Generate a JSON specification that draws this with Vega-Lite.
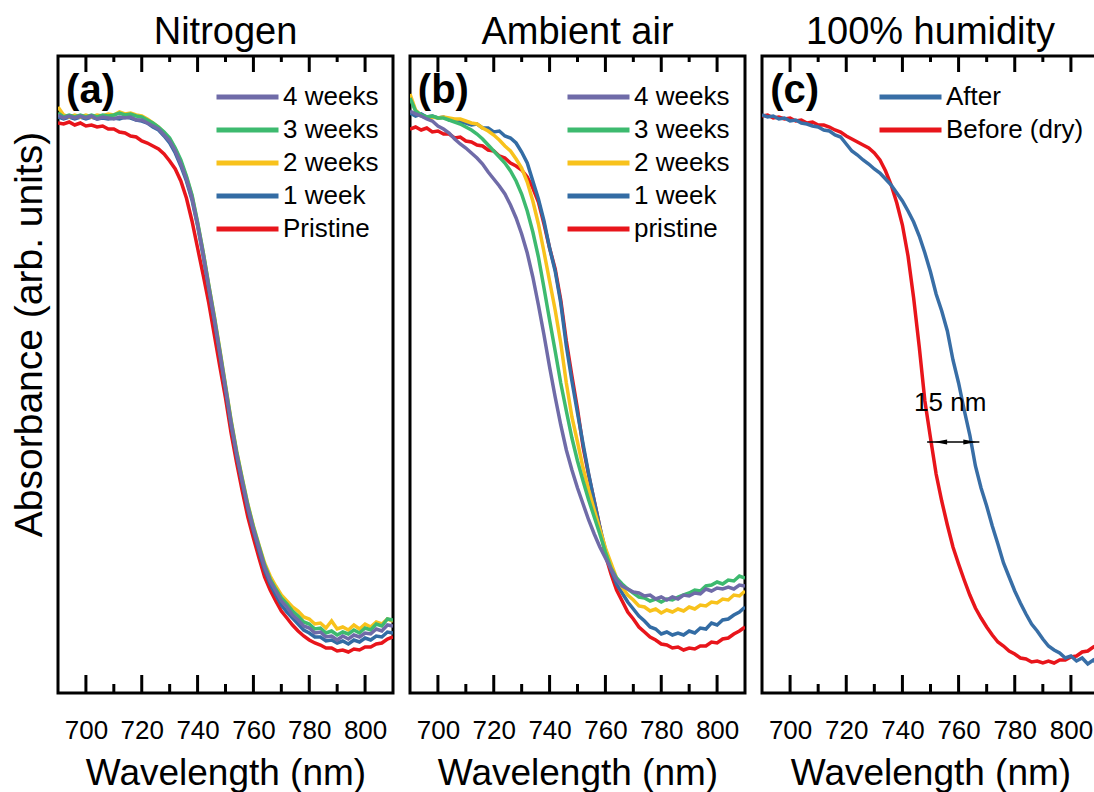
{
"$schema": "https://vega.github.io/schema/vega-lite/v6.json",
"padding": {"left": 8, "top": 12, "right": 0, "bottom": 0},
"background": "white",
"spacing": 13,
"config": {
  "font": "Liberation Sans",
  "view": {"stroke": "black", "strokeWidth": 3},
  "axis": {"grid": false, "domain": false, "ticks": false, "tickSize": 0, "labelFont": "Liberation Sans", "titleFont": "Liberation Sans", "labelColor": "black", "titleColor": "black"},
  "legend": {"symbolType": "stroke", "symbolSize": 3844, "symbolStrokeWidth": 5, "labelFontSize": 26, "labelFont": "Liberation Sans", "labelColor": "black", "labelOffset": 2, "clipHeight": 26, "rowPadding": 7, "padding": 0, "orient": "none", "title": null},
  "title": {"font": "Liberation Sans", "fontSize": 38, "fontWeight": "normal", "color": "black", "offset": 3, "baseline": "bottom", "anchor": "middle"},
  "text": {"font": "Liberation Sans", "color": "black"}
},
"datasets": {
"a": [
{"s":"Pristine","x":690,"y":5.70},{"s":"Pristine","x":692,"y":5.69},{"s":"Pristine","x":694,"y":5.71},{"s":"Pristine","x":696,"y":5.68},{"s":"Pristine","x":698,"y":5.70},{"s":"Pristine","x":700,"y":5.67},{"s":"Pristine","x":702,"y":5.68},{"s":"Pristine","x":704,"y":5.66},{"s":"Pristine","x":706,"y":5.67},{"s":"Pristine","x":708,"y":5.64},{"s":"Pristine","x":710,"y":5.64},{"s":"Pristine","x":712,"y":5.61},{"s":"Pristine","x":714,"y":5.60},{"s":"Pristine","x":716,"y":5.57},{"s":"Pristine","x":718,"y":5.56},{"s":"Pristine","x":720,"y":5.52},{"s":"Pristine","x":722,"y":5.50},{"s":"Pristine","x":724,"y":5.47},{"s":"Pristine","x":726,"y":5.44},{"s":"Pristine","x":728,"y":5.39},{"s":"Pristine","x":730,"y":5.32},{"s":"Pristine","x":732,"y":5.24},{"s":"Pristine","x":734,"y":5.12},{"s":"Pristine","x":736,"y":4.95},{"s":"Pristine","x":738,"y":4.72},{"s":"Pristine","x":740,"y":4.45},{"s":"Pristine","x":742,"y":4.18},{"s":"Pristine","x":744,"y":3.90},{"s":"Pristine","x":746,"y":3.58},{"s":"Pristine","x":748,"y":3.26},{"s":"Pristine","x":750,"y":2.95},{"s":"Pristine","x":752,"y":2.60},{"s":"Pristine","x":754,"y":2.30},{"s":"Pristine","x":756,"y":2.02},{"s":"Pristine","x":758,"y":1.76},{"s":"Pristine","x":760,"y":1.55},{"s":"Pristine","x":762,"y":1.35},{"s":"Pristine","x":764,"y":1.16},{"s":"Pristine","x":766,"y":1.03},{"s":"Pristine","x":768,"y":0.92},{"s":"Pristine","x":770,"y":0.82},{"s":"Pristine","x":772,"y":0.75},{"s":"Pristine","x":774,"y":0.68},{"s":"Pristine","x":776,"y":0.62},{"s":"Pristine","x":778,"y":0.57},{"s":"Pristine","x":780,"y":0.53},{"s":"Pristine","x":782,"y":0.50},{"s":"Pristine","x":784,"y":0.48},{"s":"Pristine","x":786,"y":0.45},{"s":"Pristine","x":788,"y":0.45},{"s":"Pristine","x":790,"y":0.42},{"s":"Pristine","x":792,"y":0.43},{"s":"Pristine","x":794,"y":0.41},{"s":"Pristine","x":796,"y":0.44},{"s":"Pristine","x":798,"y":0.43},{"s":"Pristine","x":800,"y":0.46},{"s":"Pristine","x":802,"y":0.46},{"s":"Pristine","x":804,"y":0.49},{"s":"Pristine","x":806,"y":0.50},{"s":"Pristine","x":808,"y":0.54},{"s":"Pristine","x":810,"y":0.56},
{"s":"1 week","x":690,"y":5.76},{"s":"1 week","x":692,"y":5.74},{"s":"1 week","x":694,"y":5.76},{"s":"1 week","x":696,"y":5.74},{"s":"1 week","x":698,"y":5.76},{"s":"1 week","x":700,"y":5.74},{"s":"1 week","x":702,"y":5.76},{"s":"1 week","x":704,"y":5.74},{"s":"1 week","x":706,"y":5.75},{"s":"1 week","x":708,"y":5.74},{"s":"1 week","x":710,"y":5.75},{"s":"1 week","x":712,"y":5.74},{"s":"1 week","x":714,"y":5.76},{"s":"1 week","x":716,"y":5.75},{"s":"1 week","x":718,"y":5.73},{"s":"1 week","x":720,"y":5.72},{"s":"1 week","x":722,"y":5.70},{"s":"1 week","x":724,"y":5.66},{"s":"1 week","x":726,"y":5.63},{"s":"1 week","x":728,"y":5.57},{"s":"1 week","x":730,"y":5.50},{"s":"1 week","x":732,"y":5.40},{"s":"1 week","x":734,"y":5.27},{"s":"1 week","x":736,"y":5.12},{"s":"1 week","x":738,"y":4.93},{"s":"1 week","x":740,"y":4.67},{"s":"1 week","x":742,"y":4.37},{"s":"1 week","x":744,"y":4.04},{"s":"1 week","x":746,"y":3.72},{"s":"1 week","x":748,"y":3.38},{"s":"1 week","x":750,"y":3.03},{"s":"1 week","x":752,"y":2.68},{"s":"1 week","x":754,"y":2.37},{"s":"1 week","x":756,"y":2.10},{"s":"1 week","x":758,"y":1.84},{"s":"1 week","x":760,"y":1.62},{"s":"1 week","x":762,"y":1.42},{"s":"1 week","x":764,"y":1.23},{"s":"1 week","x":766,"y":1.09},{"s":"1 week","x":768,"y":0.98},{"s":"1 week","x":770,"y":0.88},{"s":"1 week","x":772,"y":0.81},{"s":"1 week","x":774,"y":0.75},{"s":"1 week","x":776,"y":0.69},{"s":"1 week","x":778,"y":0.63},{"s":"1 week","x":780,"y":0.60},{"s":"1 week","x":782,"y":0.56},{"s":"1 week","x":784,"y":0.56},{"s":"1 week","x":786,"y":0.52},{"s":"1 week","x":788,"y":0.53},{"s":"1 week","x":790,"y":0.50},{"s":"1 week","x":792,"y":0.52},{"s":"1 week","x":794,"y":0.49},{"s":"1 week","x":796,"y":0.53},{"s":"1 week","x":798,"y":0.51},{"s":"1 week","x":800,"y":0.55},{"s":"1 week","x":802,"y":0.53},{"s":"1 week","x":804,"y":0.57},{"s":"1 week","x":806,"y":0.56},{"s":"1 week","x":808,"y":0.61},{"s":"1 week","x":810,"y":0.60},
{"s":"2 weeks","x":690,"y":5.86},{"s":"2 weeks","x":692,"y":5.78},{"s":"2 weeks","x":694,"y":5.76},{"s":"2 weeks","x":696,"y":5.78},{"s":"2 weeks","x":698,"y":5.76},{"s":"2 weeks","x":700,"y":5.78},{"s":"2 weeks","x":702,"y":5.76},{"s":"2 weeks","x":704,"y":5.78},{"s":"2 weeks","x":706,"y":5.77},{"s":"2 weeks","x":708,"y":5.79},{"s":"2 weeks","x":710,"y":5.78},{"s":"2 weeks","x":712,"y":5.81},{"s":"2 weeks","x":714,"y":5.79},{"s":"2 weeks","x":716,"y":5.80},{"s":"2 weeks","x":718,"y":5.78},{"s":"2 weeks","x":720,"y":5.77},{"s":"2 weeks","x":722,"y":5.74},{"s":"2 weeks","x":724,"y":5.70},{"s":"2 weeks","x":726,"y":5.66},{"s":"2 weeks","x":728,"y":5.60},{"s":"2 weeks","x":730,"y":5.54},{"s":"2 weeks","x":732,"y":5.44},{"s":"2 weeks","x":734,"y":5.31},{"s":"2 weeks","x":736,"y":5.16},{"s":"2 weeks","x":738,"y":4.97},{"s":"2 weeks","x":740,"y":4.70},{"s":"2 weeks","x":742,"y":4.41},{"s":"2 weeks","x":744,"y":4.08},{"s":"2 weeks","x":746,"y":3.77},{"s":"2 weeks","x":748,"y":3.43},{"s":"2 weeks","x":750,"y":3.08},{"s":"2 weeks","x":752,"y":2.73},{"s":"2 weeks","x":754,"y":2.42},{"s":"2 weeks","x":756,"y":2.15},{"s":"2 weeks","x":758,"y":1.89},{"s":"2 weeks","x":760,"y":1.67},{"s":"2 weeks","x":762,"y":1.48},{"s":"2 weeks","x":764,"y":1.30},{"s":"2 weeks","x":766,"y":1.17},{"s":"2 weeks","x":768,"y":1.07},{"s":"2 weeks","x":770,"y":0.98},{"s":"2 weeks","x":772,"y":0.92},{"s":"2 weeks","x":774,"y":0.86},{"s":"2 weeks","x":776,"y":0.82},{"s":"2 weeks","x":778,"y":0.76},{"s":"2 weeks","x":780,"y":0.74},{"s":"2 weeks","x":782,"y":0.69},{"s":"2 weeks","x":784,"y":0.70},{"s":"2 weeks","x":786,"y":0.65},{"s":"2 weeks","x":788,"y":0.72},{"s":"2 weeks","x":790,"y":0.64},{"s":"2 weeks","x":792,"y":0.66},{"s":"2 weeks","x":794,"y":0.63},{"s":"2 weeks","x":796,"y":0.68},{"s":"2 weeks","x":798,"y":0.64},{"s":"2 weeks","x":800,"y":0.69},{"s":"2 weeks","x":802,"y":0.66},{"s":"2 weeks","x":804,"y":0.71},{"s":"2 weeks","x":806,"y":0.69},{"s":"2 weeks","x":808,"y":0.74},{"s":"2 weeks","x":810,"y":0.72},
{"s":"3 weeks","x":690,"y":5.80},{"s":"3 weeks","x":692,"y":5.76},{"s":"3 weeks","x":694,"y":5.78},{"s":"3 weeks","x":696,"y":5.76},{"s":"3 weeks","x":698,"y":5.78},{"s":"3 weeks","x":700,"y":5.76},{"s":"3 weeks","x":702,"y":5.78},{"s":"3 weeks","x":704,"y":5.76},{"s":"3 weeks","x":706,"y":5.78},{"s":"3 weeks","x":708,"y":5.77},{"s":"3 weeks","x":710,"y":5.78},{"s":"3 weeks","x":712,"y":5.80},{"s":"3 weeks","x":714,"y":5.78},{"s":"3 weeks","x":716,"y":5.79},{"s":"3 weeks","x":718,"y":5.77},{"s":"3 weeks","x":720,"y":5.76},{"s":"3 weeks","x":722,"y":5.73},{"s":"3 weeks","x":724,"y":5.70},{"s":"3 weeks","x":726,"y":5.66},{"s":"3 weeks","x":728,"y":5.61},{"s":"3 weeks","x":730,"y":5.55},{"s":"3 weeks","x":732,"y":5.45},{"s":"3 weeks","x":734,"y":5.33},{"s":"3 weeks","x":736,"y":5.17},{"s":"3 weeks","x":738,"y":4.98},{"s":"3 weeks","x":740,"y":4.71},{"s":"3 weeks","x":742,"y":4.41},{"s":"3 weeks","x":744,"y":4.08},{"s":"3 weeks","x":746,"y":3.76},{"s":"3 weeks","x":748,"y":3.42},{"s":"3 weeks","x":750,"y":3.07},{"s":"3 weeks","x":752,"y":2.72},{"s":"3 weeks","x":754,"y":2.41},{"s":"3 weeks","x":756,"y":2.14},{"s":"3 weeks","x":758,"y":1.88},{"s":"3 weeks","x":760,"y":1.66},{"s":"3 weeks","x":762,"y":1.47},{"s":"3 weeks","x":764,"y":1.28},{"s":"3 weeks","x":766,"y":1.14},{"s":"3 weeks","x":768,"y":1.04},{"s":"3 weeks","x":770,"y":0.95},{"s":"3 weeks","x":772,"y":0.89},{"s":"3 weeks","x":774,"y":0.82},{"s":"3 weeks","x":776,"y":0.77},{"s":"3 weeks","x":778,"y":0.71},{"s":"3 weeks","x":780,"y":0.69},{"s":"3 weeks","x":782,"y":0.64},{"s":"3 weeks","x":784,"y":0.65},{"s":"3 weeks","x":786,"y":0.60},{"s":"3 weeks","x":788,"y":0.62},{"s":"3 weeks","x":790,"y":0.58},{"s":"3 weeks","x":792,"y":0.61},{"s":"3 weeks","x":794,"y":0.59},{"s":"3 weeks","x":796,"y":0.63},{"s":"3 weeks","x":798,"y":0.60},{"s":"3 weeks","x":800,"y":0.65},{"s":"3 weeks","x":802,"y":0.63},{"s":"3 weeks","x":804,"y":0.69},{"s":"3 weeks","x":806,"y":0.67},{"s":"3 weeks","x":808,"y":0.74},{"s":"3 weeks","x":810,"y":0.73},
{"s":"4 weeks","x":690,"y":5.78},{"s":"4 weeks","x":692,"y":5.75},{"s":"4 weeks","x":694,"y":5.77},{"s":"4 weeks","x":696,"y":5.75},{"s":"4 weeks","x":698,"y":5.77},{"s":"4 weeks","x":700,"y":5.75},{"s":"4 weeks","x":702,"y":5.77},{"s":"4 weeks","x":704,"y":5.74},{"s":"4 weeks","x":706,"y":5.76},{"s":"4 weeks","x":708,"y":5.75},{"s":"4 weeks","x":710,"y":5.74},{"s":"4 weeks","x":712,"y":5.76},{"s":"4 weeks","x":714,"y":5.75},{"s":"4 weeks","x":716,"y":5.76},{"s":"4 weeks","x":718,"y":5.73},{"s":"4 weeks","x":720,"y":5.73},{"s":"4 weeks","x":722,"y":5.70},{"s":"4 weeks","x":724,"y":5.67},{"s":"4 weeks","x":726,"y":5.64},{"s":"4 weeks","x":728,"y":5.58},{"s":"4 weeks","x":730,"y":5.52},{"s":"4 weeks","x":732,"y":5.42},{"s":"4 weeks","x":734,"y":5.29},{"s":"4 weeks","x":736,"y":5.14},{"s":"4 weeks","x":738,"y":4.95},{"s":"4 weeks","x":740,"y":4.69},{"s":"4 weeks","x":742,"y":4.39},{"s":"4 weeks","x":744,"y":4.06},{"s":"4 weeks","x":746,"y":3.74},{"s":"4 weeks","x":748,"y":3.40},{"s":"4 weeks","x":750,"y":3.05},{"s":"4 weeks","x":752,"y":2.70},{"s":"4 weeks","x":754,"y":2.39},{"s":"4 weeks","x":756,"y":2.12},{"s":"4 weeks","x":758,"y":1.86},{"s":"4 weeks","x":760,"y":1.64},{"s":"4 weeks","x":762,"y":1.45},{"s":"4 weeks","x":764,"y":1.26},{"s":"4 weeks","x":766,"y":1.12},{"s":"4 weeks","x":768,"y":1.02},{"s":"4 weeks","x":770,"y":0.92},{"s":"4 weeks","x":772,"y":0.86},{"s":"4 weeks","x":774,"y":0.78},{"s":"4 weeks","x":776,"y":0.73},{"s":"4 weeks","x":778,"y":0.67},{"s":"4 weeks","x":780,"y":0.65},{"s":"4 weeks","x":782,"y":0.60},{"s":"4 weeks","x":784,"y":0.61},{"s":"4 weeks","x":786,"y":0.56},{"s":"4 weeks","x":788,"y":0.57},{"s":"4 weeks","x":790,"y":0.53},{"s":"4 weeks","x":792,"y":0.57},{"s":"4 weeks","x":794,"y":0.54},{"s":"4 weeks","x":796,"y":0.58},{"s":"4 weeks","x":798,"y":0.56},{"s":"4 weeks","x":800,"y":0.60},{"s":"4 weeks","x":802,"y":0.59},{"s":"4 weeks","x":804,"y":0.64},{"s":"4 weeks","x":806,"y":0.62},{"s":"4 weeks","x":808,"y":0.68},{"s":"4 weeks","x":810,"y":0.67}
],
"b": [
{"s":"pristine","x":690,"y":5.64},{"s":"pristine","x":692,"y":5.66},{"s":"pristine","x":694,"y":5.63},{"s":"pristine","x":696,"y":5.65},{"s":"pristine","x":698,"y":5.61},{"s":"pristine","x":700,"y":5.62},{"s":"pristine","x":702,"y":5.59},{"s":"pristine","x":704,"y":5.59},{"s":"pristine","x":706,"y":5.55},{"s":"pristine","x":708,"y":5.56},{"s":"pristine","x":710,"y":5.52},{"s":"pristine","x":712,"y":5.51},{"s":"pristine","x":714,"y":5.48},{"s":"pristine","x":716,"y":5.47},{"s":"pristine","x":718,"y":5.43},{"s":"pristine","x":720,"y":5.42},{"s":"pristine","x":722,"y":5.37},{"s":"pristine","x":724,"y":5.35},{"s":"pristine","x":726,"y":5.30},{"s":"pristine","x":728,"y":5.27},{"s":"pristine","x":730,"y":5.23},{"s":"pristine","x":732,"y":5.16},{"s":"pristine","x":734,"y":5.05},{"s":"pristine","x":736,"y":4.91},{"s":"pristine","x":738,"y":4.69},{"s":"pristine","x":740,"y":4.45},{"s":"pristine","x":742,"y":4.24},{"s":"pristine","x":744,"y":3.93},{"s":"pristine","x":746,"y":3.52},{"s":"pristine","x":748,"y":3.17},{"s":"pristine","x":750,"y":2.84},{"s":"pristine","x":752,"y":2.46},{"s":"pristine","x":754,"y":2.18},{"s":"pristine","x":756,"y":1.92},{"s":"pristine","x":758,"y":1.66},{"s":"pristine","x":760,"y":1.38},{"s":"pristine","x":762,"y":1.19},{"s":"pristine","x":764,"y":1.03},{"s":"pristine","x":766,"y":0.92},{"s":"pristine","x":768,"y":0.81},{"s":"pristine","x":770,"y":0.74},{"s":"pristine","x":772,"y":0.66},{"s":"pristine","x":774,"y":0.61},{"s":"pristine","x":776,"y":0.56},{"s":"pristine","x":778,"y":0.53},{"s":"pristine","x":780,"y":0.49},{"s":"pristine","x":782,"y":0.48},{"s":"pristine","x":784,"y":0.45},{"s":"pristine","x":786,"y":0.46},{"s":"pristine","x":788,"y":0.43},{"s":"pristine","x":790,"y":0.45},{"s":"pristine","x":792,"y":0.44},{"s":"pristine","x":794,"y":0.47},{"s":"pristine","x":796,"y":0.47},{"s":"pristine","x":798,"y":0.51},{"s":"pristine","x":800,"y":0.50},{"s":"pristine","x":802,"y":0.54},{"s":"pristine","x":804,"y":0.55},{"s":"pristine","x":806,"y":0.59},{"s":"pristine","x":808,"y":0.62},{"s":"pristine","x":810,"y":0.66},
{"s":"1 week","x":690,"y":5.80},{"s":"1 week","x":692,"y":5.77},{"s":"1 week","x":694,"y":5.79},{"s":"1 week","x":696,"y":5.76},{"s":"1 week","x":698,"y":5.77},{"s":"1 week","x":700,"y":5.75},{"s":"1 week","x":702,"y":5.76},{"s":"1 week","x":704,"y":5.73},{"s":"1 week","x":706,"y":5.73},{"s":"1 week","x":708,"y":5.71},{"s":"1 week","x":710,"y":5.70},{"s":"1 week","x":712,"y":5.68},{"s":"1 week","x":714,"y":5.69},{"s":"1 week","x":716,"y":5.65},{"s":"1 week","x":718,"y":5.65},{"s":"1 week","x":720,"y":5.61},{"s":"1 week","x":722,"y":5.62},{"s":"1 week","x":724,"y":5.57},{"s":"1 week","x":726,"y":5.55},{"s":"1 week","x":728,"y":5.50},{"s":"1 week","x":730,"y":5.41},{"s":"1 week","x":732,"y":5.30},{"s":"1 week","x":734,"y":5.12},{"s":"1 week","x":736,"y":4.94},{"s":"1 week","x":738,"y":4.72},{"s":"1 week","x":740,"y":4.45},{"s":"1 week","x":742,"y":4.22},{"s":"1 week","x":744,"y":3.90},{"s":"1 week","x":746,"y":3.47},{"s":"1 week","x":748,"y":3.12},{"s":"1 week","x":750,"y":2.80},{"s":"1 week","x":752,"y":2.49},{"s":"1 week","x":754,"y":2.19},{"s":"1 week","x":756,"y":1.92},{"s":"1 week","x":758,"y":1.66},{"s":"1 week","x":760,"y":1.43},{"s":"1 week","x":762,"y":1.23},{"s":"1 week","x":764,"y":1.09},{"s":"1 week","x":766,"y":1.00},{"s":"1 week","x":768,"y":0.91},{"s":"1 week","x":770,"y":0.84},{"s":"1 week","x":772,"y":0.77},{"s":"1 week","x":774,"y":0.72},{"s":"1 week","x":776,"y":0.66},{"s":"1 week","x":778,"y":0.64},{"s":"1 week","x":780,"y":0.59},{"s":"1 week","x":782,"y":0.61},{"s":"1 week","x":784,"y":0.58},{"s":"1 week","x":786,"y":0.60},{"s":"1 week","x":788,"y":0.58},{"s":"1 week","x":790,"y":0.62},{"s":"1 week","x":792,"y":0.60},{"s":"1 week","x":794,"y":0.65},{"s":"1 week","x":796,"y":0.64},{"s":"1 week","x":798,"y":0.70},{"s":"1 week","x":800,"y":0.68},{"s":"1 week","x":802,"y":0.73},{"s":"1 week","x":804,"y":0.74},{"s":"1 week","x":806,"y":0.78},{"s":"1 week","x":808,"y":0.81},{"s":"1 week","x":810,"y":0.86},
{"s":"2 weeks","x":690,"y":5.99},{"s":"2 weeks","x":692,"y":5.83},{"s":"2 weeks","x":694,"y":5.77},{"s":"2 weeks","x":696,"y":5.75},{"s":"2 weeks","x":698,"y":5.76},{"s":"2 weeks","x":700,"y":5.75},{"s":"2 weeks","x":702,"y":5.76},{"s":"2 weeks","x":704,"y":5.75},{"s":"2 weeks","x":706,"y":5.74},{"s":"2 weeks","x":708,"y":5.74},{"s":"2 weeks","x":710,"y":5.72},{"s":"2 weeks","x":712,"y":5.70},{"s":"2 weeks","x":714,"y":5.69},{"s":"2 weeks","x":716,"y":5.65},{"s":"2 weeks","x":718,"y":5.62},{"s":"2 weeks","x":720,"y":5.58},{"s":"2 weeks","x":722,"y":5.53},{"s":"2 weeks","x":724,"y":5.47},{"s":"2 weeks","x":726,"y":5.42},{"s":"2 weeks","x":728,"y":5.34},{"s":"2 weeks","x":730,"y":5.25},{"s":"2 weeks","x":732,"y":5.11},{"s":"2 weeks","x":734,"y":4.92},{"s":"2 weeks","x":736,"y":4.69},{"s":"2 weeks","x":738,"y":4.41},{"s":"2 weeks","x":740,"y":4.12},{"s":"2 weeks","x":742,"y":3.83},{"s":"2 weeks","x":744,"y":3.50},{"s":"2 weeks","x":746,"y":3.10},{"s":"2 weeks","x":748,"y":2.76},{"s":"2 weeks","x":750,"y":2.51},{"s":"2 weeks","x":752,"y":2.25},{"s":"2 weeks","x":754,"y":2.03},{"s":"2 weeks","x":756,"y":1.83},{"s":"2 weeks","x":758,"y":1.64},{"s":"2 weeks","x":760,"y":1.45},{"s":"2 weeks","x":762,"y":1.30},{"s":"2 weeks","x":764,"y":1.15},{"s":"2 weeks","x":766,"y":1.06},{"s":"2 weeks","x":768,"y":0.98},{"s":"2 weeks","x":770,"y":0.93},{"s":"2 weeks","x":772,"y":0.87},{"s":"2 weeks","x":774,"y":0.86},{"s":"2 weeks","x":776,"y":0.82},{"s":"2 weeks","x":778,"y":0.84},{"s":"2 weeks","x":780,"y":0.80},{"s":"2 weeks","x":782,"y":0.83},{"s":"2 weeks","x":784,"y":0.81},{"s":"2 weeks","x":786,"y":0.84},{"s":"2 weeks","x":788,"y":0.82},{"s":"2 weeks","x":790,"y":0.86},{"s":"2 weeks","x":792,"y":0.84},{"s":"2 weeks","x":794,"y":0.88},{"s":"2 weeks","x":796,"y":0.87},{"s":"2 weeks","x":798,"y":0.91},{"s":"2 weeks","x":800,"y":0.90},{"s":"2 weeks","x":802,"y":0.94},{"s":"2 weeks","x":804,"y":0.93},{"s":"2 weeks","x":806,"y":0.98},{"s":"2 weeks","x":808,"y":0.97},{"s":"2 weeks","x":810,"y":1.02},
{"s":"3 weeks","x":690,"y":5.95},{"s":"3 weeks","x":692,"y":5.82},{"s":"3 weeks","x":694,"y":5.78},{"s":"3 weeks","x":696,"y":5.76},{"s":"3 weeks","x":698,"y":5.77},{"s":"3 weeks","x":700,"y":5.75},{"s":"3 weeks","x":702,"y":5.75},{"s":"3 weeks","x":704,"y":5.73},{"s":"3 weeks","x":706,"y":5.71},{"s":"3 weeks","x":708,"y":5.69},{"s":"3 weeks","x":710,"y":5.66},{"s":"3 weeks","x":712,"y":5.63},{"s":"3 weeks","x":714,"y":5.59},{"s":"3 weeks","x":716,"y":5.54},{"s":"3 weeks","x":718,"y":5.48},{"s":"3 weeks","x":720,"y":5.42},{"s":"3 weeks","x":722,"y":5.36},{"s":"3 weeks","x":724,"y":5.30},{"s":"3 weeks","x":726,"y":5.22},{"s":"3 weeks","x":728,"y":5.12},{"s":"3 weeks","x":730,"y":4.99},{"s":"3 weeks","x":732,"y":4.82},{"s":"3 weeks","x":734,"y":4.61},{"s":"3 weeks","x":736,"y":4.36},{"s":"3 weeks","x":738,"y":4.05},{"s":"3 weeks","x":740,"y":3.73},{"s":"3 weeks","x":742,"y":3.42},{"s":"3 weeks","x":744,"y":3.10},{"s":"3 weeks","x":746,"y":2.82},{"s":"3 weeks","x":748,"y":2.55},{"s":"3 weeks","x":750,"y":2.32},{"s":"3 weeks","x":752,"y":2.12},{"s":"3 weeks","x":754,"y":1.93},{"s":"3 weeks","x":756,"y":1.76},{"s":"3 weeks","x":758,"y":1.59},{"s":"3 weeks","x":760,"y":1.41},{"s":"3 weeks","x":762,"y":1.25},{"s":"3 weeks","x":764,"y":1.15},{"s":"3 weeks","x":766,"y":1.09},{"s":"3 weeks","x":768,"y":1.04},{"s":"3 weeks","x":770,"y":1.00},{"s":"3 weeks","x":772,"y":0.96},{"s":"3 weeks","x":774,"y":0.95},{"s":"3 weeks","x":776,"y":0.92},{"s":"3 weeks","x":778,"y":0.94},{"s":"3 weeks","x":780,"y":0.91},{"s":"3 weeks","x":782,"y":0.94},{"s":"3 weeks","x":784,"y":0.93},{"s":"3 weeks","x":786,"y":0.96},{"s":"3 weeks","x":788,"y":0.98},{"s":"3 weeks","x":790,"y":1.00},{"s":"3 weeks","x":792,"y":1.03},{"s":"3 weeks","x":794,"y":1.02},{"s":"3 weeks","x":796,"y":1.07},{"s":"3 weeks","x":798,"y":1.08},{"s":"3 weeks","x":800,"y":1.11},{"s":"3 weeks","x":802,"y":1.09},{"s":"3 weeks","x":804,"y":1.13},{"s":"3 weeks","x":806,"y":1.12},{"s":"3 weeks","x":808,"y":1.17},{"s":"3 weeks","x":810,"y":1.15},
{"s":"4 weeks","x":690,"y":5.82},{"s":"4 weeks","x":692,"y":5.79},{"s":"4 weeks","x":694,"y":5.77},{"s":"4 weeks","x":696,"y":5.74},{"s":"4 weeks","x":698,"y":5.72},{"s":"4 weeks","x":700,"y":5.67},{"s":"4 weeks","x":702,"y":5.64},{"s":"4 weeks","x":704,"y":5.60},{"s":"4 weeks","x":706,"y":5.54},{"s":"4 weeks","x":708,"y":5.49},{"s":"4 weeks","x":710,"y":5.45},{"s":"4 weeks","x":712,"y":5.40},{"s":"4 weeks","x":714,"y":5.35},{"s":"4 weeks","x":716,"y":5.29},{"s":"4 weeks","x":718,"y":5.21},{"s":"4 weeks","x":720,"y":5.14},{"s":"4 weeks","x":722,"y":5.07},{"s":"4 weeks","x":724,"y":4.99},{"s":"4 weeks","x":726,"y":4.88},{"s":"4 weeks","x":728,"y":4.75},{"s":"4 weeks","x":730,"y":4.59},{"s":"4 weeks","x":732,"y":4.40},{"s":"4 weeks","x":734,"y":4.16},{"s":"4 weeks","x":736,"y":3.88},{"s":"4 weeks","x":738,"y":3.58},{"s":"4 weeks","x":740,"y":3.26},{"s":"4 weeks","x":742,"y":2.96},{"s":"4 weeks","x":744,"y":2.68},{"s":"4 weeks","x":746,"y":2.43},{"s":"4 weeks","x":748,"y":2.23},{"s":"4 weeks","x":750,"y":2.05},{"s":"4 weeks","x":752,"y":1.89},{"s":"4 weeks","x":754,"y":1.73},{"s":"4 weeks","x":756,"y":1.59},{"s":"4 weeks","x":758,"y":1.46},{"s":"4 weeks","x":760,"y":1.35},{"s":"4 weeks","x":762,"y":1.24},{"s":"4 weeks","x":764,"y":1.13},{"s":"4 weeks","x":766,"y":1.07},{"s":"4 weeks","x":768,"y":1.04},{"s":"4 weeks","x":770,"y":1.01},{"s":"4 weeks","x":772,"y":1.00},{"s":"4 weeks","x":774,"y":0.97},{"s":"4 weeks","x":776,"y":0.98},{"s":"4 weeks","x":778,"y":0.94},{"s":"4 weeks","x":780,"y":0.96},{"s":"4 weeks","x":782,"y":0.93},{"s":"4 weeks","x":784,"y":0.96},{"s":"4 weeks","x":786,"y":0.94},{"s":"4 weeks","x":788,"y":0.98},{"s":"4 weeks","x":790,"y":0.97},{"s":"4 weeks","x":792,"y":1.00},{"s":"4 weeks","x":794,"y":0.99},{"s":"4 weeks","x":796,"y":1.04},{"s":"4 weeks","x":798,"y":1.02},{"s":"4 weeks","x":800,"y":1.05},{"s":"4 weeks","x":802,"y":1.04},{"s":"4 weeks","x":804,"y":1.06},{"s":"4 weeks","x":806,"y":1.04},{"s":"4 weeks","x":808,"y":1.08},{"s":"4 weeks","x":810,"y":1.07}
],
"c": [
{"s":"Before (dry)","x":690,"y":5.77},{"s":"Before (dry)","x":692,"y":5.78},{"s":"Before (dry)","x":694,"y":5.75},{"s":"Before (dry)","x":696,"y":5.76},{"s":"Before (dry)","x":698,"y":5.74},{"s":"Before (dry)","x":700,"y":5.75},{"s":"Before (dry)","x":702,"y":5.72},{"s":"Before (dry)","x":704,"y":5.73},{"s":"Before (dry)","x":706,"y":5.70},{"s":"Before (dry)","x":708,"y":5.71},{"s":"Before (dry)","x":710,"y":5.68},{"s":"Before (dry)","x":712,"y":5.68},{"s":"Before (dry)","x":714,"y":5.66},{"s":"Before (dry)","x":716,"y":5.63},{"s":"Before (dry)","x":718,"y":5.61},{"s":"Before (dry)","x":720,"y":5.57},{"s":"Before (dry)","x":722,"y":5.54},{"s":"Before (dry)","x":724,"y":5.51},{"s":"Before (dry)","x":726,"y":5.48},{"s":"Before (dry)","x":728,"y":5.45},{"s":"Before (dry)","x":730,"y":5.40},{"s":"Before (dry)","x":732,"y":5.33},{"s":"Before (dry)","x":734,"y":5.22},{"s":"Before (dry)","x":736,"y":5.08},{"s":"Before (dry)","x":738,"y":4.90},{"s":"Before (dry)","x":740,"y":4.68},{"s":"Before (dry)","x":742,"y":4.37},{"s":"Before (dry)","x":744,"y":3.95},{"s":"Before (dry)","x":746,"y":3.46},{"s":"Before (dry)","x":748,"y":2.92},{"s":"Before (dry)","x":750,"y":2.55},{"s":"Before (dry)","x":752,"y":2.19},{"s":"Before (dry)","x":754,"y":1.92},{"s":"Before (dry)","x":756,"y":1.68},{"s":"Before (dry)","x":758,"y":1.46},{"s":"Before (dry)","x":760,"y":1.29},{"s":"Before (dry)","x":762,"y":1.13},{"s":"Before (dry)","x":764,"y":0.98},{"s":"Before (dry)","x":766,"y":0.85},{"s":"Before (dry)","x":768,"y":0.75},{"s":"Before (dry)","x":770,"y":0.66},{"s":"Before (dry)","x":772,"y":0.58},{"s":"Before (dry)","x":774,"y":0.51},{"s":"Before (dry)","x":776,"y":0.47},{"s":"Before (dry)","x":778,"y":0.42},{"s":"Before (dry)","x":780,"y":0.39},{"s":"Before (dry)","x":782,"y":0.35},{"s":"Before (dry)","x":784,"y":0.34},{"s":"Before (dry)","x":786,"y":0.31},{"s":"Before (dry)","x":788,"y":0.32},{"s":"Before (dry)","x":790,"y":0.30},{"s":"Before (dry)","x":792,"y":0.32},{"s":"Before (dry)","x":794,"y":0.30},{"s":"Before (dry)","x":796,"y":0.33},{"s":"Before (dry)","x":798,"y":0.33},{"s":"Before (dry)","x":800,"y":0.36},{"s":"Before (dry)","x":802,"y":0.37},{"s":"Before (dry)","x":804,"y":0.41},{"s":"Before (dry)","x":806,"y":0.42},{"s":"Before (dry)","x":808,"y":0.46},{"s":"Before (dry)","x":810,"y":0.49},
{"s":"After","x":690,"y":5.78},{"s":"After","x":692,"y":5.76},{"s":"After","x":694,"y":5.77},{"s":"After","x":696,"y":5.74},{"s":"After","x":698,"y":5.75},{"s":"After","x":700,"y":5.72},{"s":"After","x":702,"y":5.73},{"s":"After","x":704,"y":5.70},{"s":"After","x":706,"y":5.69},{"s":"After","x":708,"y":5.67},{"s":"After","x":710,"y":5.66},{"s":"After","x":712,"y":5.63},{"s":"After","x":714,"y":5.62},{"s":"After","x":716,"y":5.58},{"s":"After","x":718,"y":5.56},{"s":"After","x":720,"y":5.49},{"s":"After","x":722,"y":5.42},{"s":"After","x":724,"y":5.38},{"s":"After","x":726,"y":5.33},{"s":"After","x":728,"y":5.29},{"s":"After","x":730,"y":5.24},{"s":"After","x":732,"y":5.20},{"s":"After","x":734,"y":5.14},{"s":"After","x":736,"y":5.08},{"s":"After","x":738,"y":5.00},{"s":"After","x":740,"y":4.92},{"s":"After","x":742,"y":4.82},{"s":"After","x":744,"y":4.71},{"s":"After","x":746,"y":4.57},{"s":"After","x":748,"y":4.40},{"s":"After","x":750,"y":4.21},{"s":"After","x":752,"y":3.99},{"s":"After","x":754,"y":3.82},{"s":"After","x":756,"y":3.62},{"s":"After","x":758,"y":3.33},{"s":"After","x":760,"y":3.10},{"s":"After","x":762,"y":2.83},{"s":"After","x":764,"y":2.58},{"s":"After","x":766,"y":2.27},{"s":"After","x":768,"y":2.05},{"s":"After","x":770,"y":1.87},{"s":"After","x":772,"y":1.67},{"s":"After","x":774,"y":1.49},{"s":"After","x":776,"y":1.30},{"s":"After","x":778,"y":1.16},{"s":"After","x":780,"y":1.02},{"s":"After","x":782,"y":0.90},{"s":"After","x":784,"y":0.79},{"s":"After","x":786,"y":0.69},{"s":"After","x":788,"y":0.62},{"s":"After","x":790,"y":0.54},{"s":"After","x":792,"y":0.47},{"s":"After","x":794,"y":0.43},{"s":"After","x":796,"y":0.40},{"s":"After","x":798,"y":0.35},{"s":"After","x":800,"y":0.37},{"s":"After","x":802,"y":0.32},{"s":"After","x":804,"y":0.35},{"s":"After","x":806,"y":0.29},{"s":"After","x":808,"y":0.33},{"s":"After","x":810,"y":0.28}
]
},
"hconcat": [
{
  "width": 335, "height": 637,
  "title": {"text": "Nitrogen"},
  "layer": [
    {
      "data": {"name": "a"},
      "mark": {"type": "line", "strokeWidth": 3.5, "clip": true},
      "encoding": {
        "x": {"field": "x", "type": "quantitative", "scale": {"domain": [690, 810], "nice": false, "zero": false},
          "axis": {"orient": "bottom", "values": [700,720,740,760,780,800], "title": "Wavelength (nm)", "titleFontSize": 37, "titleFontWeight": "normal", "titlePadding": 12, "labelFontSize": 26, "labelPadding": 24, "labelOverlap": false, "labelFlush": false, "labelBound": false}},
        "y": {"field": "y", "type": "quantitative", "scale": {"domain": [0, 6.37], "nice": false, "zero": false},
          "axis": {"title": "Absorbance (arb. units)", "titleFontSize": 39, "titleFontWeight": "normal", "titlePadding": 9, "titleY": 278, "labels": false}},
        "color": {"field": "s", "type": "nominal", "scale": {"domain": ["4 weeks", "3 weeks", "2 weeks", "1 week", "Pristine"], "range": ["#6f6ba8", "#3dba6f", "#f8c21c", "#336ca4", "#e8151b"]},
          "legend": {"orient": "none", "legendX": 156, "legendY": 28, "title": null, "symbolStrokeWidth": 5}}
      }
    },
    {
      "data": {"values": [{"t": "(a)", "x": 692.9, "y": 6.02}]},
      "mark": {"type": "text", "align": "left", "baseline": "middle", "fontSize": 40, "fontWeight": "bold"},
      "encoding": {"x": {"field": "x", "type": "quantitative", "axis": null}, "y": {"field": "y", "type": "quantitative", "axis": {"title": "Absorbance (arb. units)", "titleFontSize": 39, "titleFontWeight": "normal", "titlePadding": 9, "titleY": 278, "labels": false}}, "text": {"field": "t"}}
    },
    {"data": {"values": [{"v":700},{"v":720},{"v":740},{"v":760},{"v":780},{"v":800}]}, "mark": {"type": "rule", "color": "black", "strokeWidth": 3, "strokeCap": "butt"},
     "encoding": {"x": {"field": "v", "type": "quantitative", "axis": null}, "y": {"datum": 0, "type": "quantitative", "axis": {"title": "Absorbance (arb. units)", "titleFontSize": 39, "titleFontWeight": "normal", "titlePadding": 9, "titleY": 278, "labels": false}}, "y2": {"datum": 0.18}}},
    {"data": {"values": [{"v":710},{"v":730},{"v":750},{"v":770},{"v":790}]}, "mark": {"type": "rule", "color": "black", "strokeWidth": 3, "strokeCap": "butt"},
     "encoding": {"x": {"field": "v", "type": "quantitative", "axis": null}, "y": {"datum": 0, "type": "quantitative", "axis": {"title": "Absorbance (arb. units)", "titleFontSize": 39, "titleFontWeight": "normal", "titlePadding": 9, "titleY": 278, "labels": false}}, "y2": {"datum": 0.09}}},
    {"data": {"values": [{"v":700},{"v":720},{"v":740},{"v":760},{"v":780},{"v":800}]}, "mark": {"type": "rule", "color": "black", "strokeWidth": 3, "strokeCap": "butt"},
     "encoding": {"x": {"field": "v", "type": "quantitative", "axis": null}, "y": {"datum": 6.37, "type": "quantitative", "axis": {"title": "Absorbance (arb. units)", "titleFontSize": 39, "titleFontWeight": "normal", "titlePadding": 9, "titleY": 278, "labels": false}}, "y2": {"datum": 6.21}}},
    {"data": {"values": [{"v":710},{"v":730},{"v":750},{"v":770},{"v":790}]}, "mark": {"type": "rule", "color": "black", "strokeWidth": 3, "strokeCap": "butt"},
     "encoding": {"x": {"field": "v", "type": "quantitative", "axis": null}, "y": {"datum": 6.37, "type": "quantitative", "axis": {"title": "Absorbance (arb. units)", "titleFontSize": 39, "titleFontWeight": "normal", "titlePadding": 9, "titleY": 278, "labels": false}}, "y2": {"datum": 6.31}}}
  ],
  "resolve": {"axis": {"x": "independent"}}
},
{
  "width": 335, "height": 637,
  "title": {"text": "Ambient air"},
  "layer": [
    {
      "data": {"name": "b"},
      "mark": {"type": "line", "strokeWidth": 3.5, "clip": true},
      "encoding": {
        "x": {"field": "x", "type": "quantitative", "scale": {"domain": [690, 810], "nice": false, "zero": false},
          "axis": {"orient": "bottom", "values": [700,720,740,760,780,800], "title": "Wavelength (nm)", "titleFontSize": 37, "titleFontWeight": "normal", "titlePadding": 12, "labelFontSize": 26, "labelPadding": 24, "labelOverlap": false, "labelFlush": false, "labelBound": false}},
        "y": {"field": "y", "type": "quantitative", "scale": {"domain": [0, 6.37], "nice": false, "zero": false}, "axis": null},
        "color": {"field": "s", "type": "nominal", "scale": {"domain": ["4 weeks", "3 weeks", "2 weeks", "1 week", "pristine"], "range": ["#6f6ba8", "#3dba6f", "#f8c21c", "#336ca4", "#e8151b"]},
          "legend": {"orient": "none", "legendX": 155, "legendY": 28, "title": null, "symbolStrokeWidth": 5}}
      }
    },
    {
      "data": {"values": [{"t": "(b)", "x": 692.8, "y": 6.02}]},
      "mark": {"type": "text", "align": "left", "baseline": "middle", "fontSize": 40, "fontWeight": "bold"},
      "encoding": {"x": {"field": "x", "type": "quantitative", "axis": null}, "y": {"field": "y", "type": "quantitative", "axis": null}, "text": {"field": "t"}}
    },
    {"data": {"values": [{"v":700},{"v":720},{"v":740},{"v":760},{"v":780},{"v":800}]}, "mark": {"type": "rule", "color": "black", "strokeWidth": 3, "strokeCap": "butt"},
     "encoding": {"x": {"field": "v", "type": "quantitative", "axis": null}, "y": {"datum": 0, "type": "quantitative", "axis": null}, "y2": {"datum": 0.18}}},
    {"data": {"values": [{"v":710},{"v":730},{"v":750},{"v":770},{"v":790}]}, "mark": {"type": "rule", "color": "black", "strokeWidth": 3, "strokeCap": "butt"},
     "encoding": {"x": {"field": "v", "type": "quantitative", "axis": null}, "y": {"datum": 0, "type": "quantitative", "axis": null}, "y2": {"datum": 0.09}}},
    {"data": {"values": [{"v":700},{"v":720},{"v":740},{"v":760},{"v":780},{"v":800}]}, "mark": {"type": "rule", "color": "black", "strokeWidth": 3, "strokeCap": "butt"},
     "encoding": {"x": {"field": "v", "type": "quantitative", "axis": null}, "y": {"datum": 6.37, "type": "quantitative", "axis": null}, "y2": {"datum": 6.21}}},
    {"data": {"values": [{"v":710},{"v":730},{"v":750},{"v":770},{"v":790}]}, "mark": {"type": "rule", "color": "black", "strokeWidth": 3, "strokeCap": "butt"},
     "encoding": {"x": {"field": "v", "type": "quantitative", "axis": null}, "y": {"datum": 6.37, "type": "quantitative", "axis": null}, "y2": {"datum": 6.31}}}
  ],
  "resolve": {"axis": {"x": "independent"}}
},
{
  "width": 337, "height": 637,
  "title": {"text": "100% humidity"},
  "layer": [
    {
      "data": {"name": "c"},
      "mark": {"type": "line", "strokeWidth": 3.5, "clip": true},
      "encoding": {
        "x": {"field": "x", "type": "quantitative", "scale": {"domain": [690, 810], "nice": false, "zero": false},
          "axis": {"orient": "bottom", "values": [700,720,740,760,780,800], "title": "Wavelength (nm)", "titleFontSize": 37, "titleFontWeight": "normal", "titlePadding": 12, "labelFontSize": 26, "labelPadding": 24, "labelOverlap": false, "labelFlush": false, "labelBound": false}},
        "y": {"field": "y", "type": "quantitative", "scale": {"domain": [0, 6.37], "nice": false, "zero": false}, "axis": null},
        "color": {"field": "s", "type": "nominal", "scale": {"domain": ["After", "Before (dry)"], "range": ["#386ea6", "#e8151b"]},
          "legend": {"orient": "none", "legendX": 115, "legendY": 28, "title": null, "symbolStrokeWidth": 5}}
      }
    },
    {
      "data": {"values": [{"t": "(c)", "x": 692.9, "y": 6.02}]},
      "mark": {"type": "text", "align": "left", "baseline": "middle", "fontSize": 40, "fontWeight": "bold"},
      "encoding": {"x": {"field": "x", "type": "quantitative", "axis": null}, "y": {"field": "y", "type": "quantitative", "axis": null}, "text": {"field": "t"}}
    },
    {
      "data": {"values": [{"t": "15 nm", "x": 757, "y": 2.9}]},
      "mark": {"type": "text", "align": "center", "baseline": "middle", "fontSize": 26},
      "encoding": {"x": {"field": "x", "type": "quantitative", "axis": null}, "y": {"field": "y", "type": "quantitative", "axis": null}, "text": {"field": "t"}}
    },
    {
      "data": {"values": [{"x": 748.8, "x2": 767.4, "y": 2.51}]},
      "mark": {"type": "rule", "color": "black", "strokeWidth": 1.5},
      "encoding": {"x": {"field": "x", "type": "quantitative", "axis": null}, "x2": {"field": "x2"}, "y": {"field": "y", "type": "quantitative", "axis": null}}
    },
    {
      "data": {"values": [{"x": 753.6, "y": 2.51}]},
      "mark": {"type": "point", "shape": "M -1 0 L 1 -0.4 L 1 0.4 Z", "filled": true, "color": "black", "size": 169, "opacity": 1},
      "encoding": {"x": {"field": "x", "type": "quantitative", "axis": null}, "y": {"field": "y", "type": "quantitative", "axis": null}}
    },
    {
      "data": {"values": [{"x": 764.0, "y": 2.51}]},
      "mark": {"type": "point", "shape": "M 1 0 L -1 -0.4 L -1 0.4 Z", "filled": true, "color": "black", "size": 169, "opacity": 1},
      "encoding": {"x": {"field": "x", "type": "quantitative", "axis": null}, "y": {"field": "y", "type": "quantitative", "axis": null}}
    },
    {"data": {"values": [{"v":700},{"v":720},{"v":740},{"v":760},{"v":780},{"v":800}]}, "mark": {"type": "rule", "color": "black", "strokeWidth": 3, "strokeCap": "butt"},
     "encoding": {"x": {"field": "v", "type": "quantitative", "axis": null}, "y": {"datum": 0, "type": "quantitative", "axis": null}, "y2": {"datum": 0.18}}},
    {"data": {"values": [{"v":710},{"v":730},{"v":750},{"v":770},{"v":790}]}, "mark": {"type": "rule", "color": "black", "strokeWidth": 3, "strokeCap": "butt"},
     "encoding": {"x": {"field": "v", "type": "quantitative", "axis": null}, "y": {"datum": 0, "type": "quantitative", "axis": null}, "y2": {"datum": 0.09}}},
    {"data": {"values": [{"v":700},{"v":720},{"v":740},{"v":760},{"v":780},{"v":800}]}, "mark": {"type": "rule", "color": "black", "strokeWidth": 3, "strokeCap": "butt"},
     "encoding": {"x": {"field": "v", "type": "quantitative", "axis": null}, "y": {"datum": 6.37, "type": "quantitative", "axis": null}, "y2": {"datum": 6.21}}},
    {"data": {"values": [{"v":710},{"v":730},{"v":750},{"v":770},{"v":790}]}, "mark": {"type": "rule", "color": "black", "strokeWidth": 3, "strokeCap": "butt"},
     "encoding": {"x": {"field": "v", "type": "quantitative", "axis": null}, "y": {"datum": 6.37, "type": "quantitative", "axis": null}, "y2": {"datum": 6.31}}}
  ],
  "resolve": {"axis": {"x": "independent"}}
}
],
"resolve": {"scale": {"color": "independent", "x": "independent", "y": "independent"}, "legend": {"color": "independent"}}
}
